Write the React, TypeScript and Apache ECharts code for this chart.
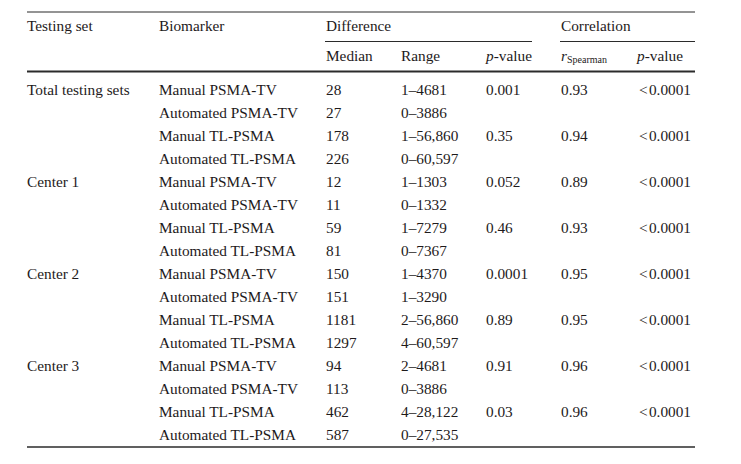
import React, { useEffect, useRef } from "react";
import * as echarts from "echarts";

const groups = ["Total testing sets", "Center 1", "Center 2", "Center 3"];
const biomarkers = ["Manual PSMA-TV", "Automated PSMA-TV", "Manual TL-PSMA", "Automated TL-PSMA"];
const medians = ["28", "27", "178", "226", "12", "11", "59", "81", "150", "151", "1181", "1297", "94", "113", "462", "587"];
const ranges = [
  "1–4681", "0–3886", "1–56,860", "0–60,597",
  "1–1303", "0–1332", "1–7279", "0–7367",
  "1–4370", "1–3290", "2–56,860", "4–60,597",
  "2–4681", "0–3886", "4–28,122", "0–27,535",
];
const diffPValues = ["0.001", "0.35", "0.052", "0.46", "0.0001", "0.89", "0.91", "0.03"];
const rSpearman = ["0.93", "0.94", "0.89", "0.93", "0.95", "0.95", "0.96", "0.96"];
const corrPValues = ["<\u200a0.0001", "<\u200a0.0001", "<\u200a0.0001", "<\u200a0.0001", "<\u200a0.0001", "<\u200a0.0001", "<\u200a0.0001", "<\u200a0.0001"];

const FONT = "Liberation Serif";
const INK = "#1e1a1b";
const FS = 15.3;

export default function App() {
  const ref = useRef<HTMLDivElement>(null);
  useEffect(() => {
    if (!ref.current) return;
    const chart = echarts.init(ref.current, null, { renderer: "svg" });
    const cols = { set: 27, bio: 159, med: 326, rng: 401, pv: 486, rs: 561, pc: 638 };
    const rowY = (i: number) => 89 + i * 23;
    const els: any[] = [];
    const txt = (x: number, y: number, t: string, extra: any = {}) =>
      els.push({
        type: "text",
        x,
        y,
        style: {
          text: t,
          fill: INK,
          fontFamily: FONT,
          fontSize: extra.size || FS,
          fontStyle: extra.italic ? "italic" : "normal",
          textAlign: "left",
          textVerticalAlign: "middle",
        },
      });
    const line = (x1: number, y: number, x2: number, w: number) =>
      els.push({ type: "line", shape: { x1, y1: y, x2, y2: y }, style: { stroke: "#2b2b2b", lineWidth: w } });

    // rules
    line(27, 12, 695, 1.2);
    line(325, 41.5, 532, 1.2);
    line(560, 41.5, 695, 1.2);
    line(27, 71.5, 695, 2);
    line(27, 447, 695, 1.5);

    // header
    txt(cols.set, 25, "Testing set");
    txt(cols.bio, 25, "Biomarker");
    txt(cols.med, 25, "Difference");
    txt(cols.rs, 25, "Correlation");
    txt(cols.med, 55, "Median");
    txt(cols.rng, 55, "Range");
    txt(cols.pv, 55, "p", { italic: true });
    txt(cols.pv + 7.7, 55, "-value");
    txt(cols.rs, 55, "r", { italic: true });
    txt(cols.rs + 6, 59.5, "Spearman", { size: 10 });
    txt(cols.pc - 1, 55, "p", { italic: true });
    txt(cols.pc + 6.7, 55, "-value");

    // body
    for (let i = 0; i < 16; i++) {
      const y = rowY(i);
      if (i % 4 === 0) txt(cols.set, y, groups[i / 4]);
      txt(cols.bio, y, biomarkers[i % 4]);
      txt(cols.med, y, medians[i]);
      txt(cols.rng, y, ranges[i]);
      if (i % 2 === 0) {
        const k = i / 2;
        txt(cols.pv, y, diffPValues[k]);
        txt(cols.rs, y, rSpearman[k]);
        txt(cols.pc + 1, y, corrPValues[k]);
      }
    }

    chart.setOption({ animation: false, graphic: { elements: els } });
    return () => chart.dispose();
  }, []);
  return (
    <div
      ref={ref}
      style={{ position: "fixed", left: 0, top: 0, width: 741, height: 464, background: "#fff" }}
    />
  );
}
